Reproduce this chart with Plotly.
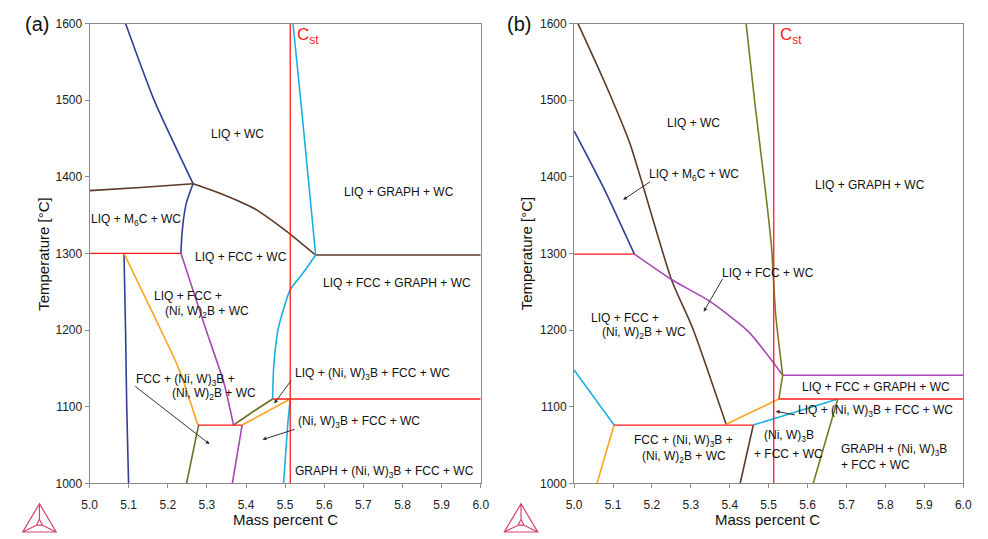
import plotly.graph_objects as go

W, H = 988, 539

# ---------------- Panel (a) curves (mass % C, temperature °C) ----------------
a_navy_up_x = [5.092, 5.165, 5.2646]
a_navy_up_t = [1600, 1500, 1391]
a_navy_m6c_x = [5.2646, 5.248, 5.2395, 5.2337, 5.2337]
a_navy_m6c_t = [1391, 1367, 1342, 1304, 1300]
a_navy_left_x = [5.088, 5.092, 5.095, 5.0997]
a_navy_left_t = [1300, 1200, 1100, 1000]
a_brown_left_x = [5.0, 5.13, 5.2646]
a_brown_left_t = [1382, 1386, 1391]
a_brown_right_x = [5.2646, 5.336, 5.4196, 5.503, 5.577]
a_brown_right_t = [1391, 1378, 1359, 1329, 1298]
a_brown_h_x = [5.577, 6.0]
a_brown_h_t = [1298, 1298]
a_cyan_up_x = [5.520, 5.541, 5.557, 5.578]
a_cyan_up_t = [1600, 1494, 1409, 1298]
a_cyan_mid_x = [5.578, 5.5452, 5.5134, 5.4824, 5.4705, 5.468]
a_cyan_mid_t = [1298, 1274, 1253, 1202, 1150, 1110]
a_cyan_low_x = [5.513, 5.507, 5.496]
a_cyan_low_t = [1110, 1079, 1000]
a_red_1300_x = [5.0, 5.2337]
a_red_1300_t = [1300, 1300]
a_red_1110_x = [5.468, 6.0]
a_red_1110_t = [1110, 1110]
a_red_1076_x = [5.277, 5.39]
a_red_1076_t = [1076, 1076]
a_orange_up_x = [5.088, 5.1767, 5.227, 5.277]
a_orange_up_t = [1300, 1206, 1151, 1076]
a_orange_low_x = [5.39, 5.513]
a_orange_low_t = [1076, 1110]
a_purple_up_x = [5.2337, 5.294, 5.344, 5.368]
a_purple_up_t = [1300, 1206, 1130, 1076]
a_purple_low_x = [5.39, 5.365]
a_purple_low_t = [1076, 1000]
a_olive_up_x = [5.368, 5.4196, 5.468]
a_olive_up_t = [1076, 1094, 1110]
a_olive_low_x = [5.279, 5.273, 5.248]
a_olive_low_t = [1076, 1062, 1000]

# ---------------- Panel (b) curves ----------------
b_brown_x = [5.010, 5.078, 5.143, 5.25, 5.305, 5.3906]
b_brown_t = [1600, 1524, 1444, 1266, 1202, 1077]
b_brown_low_x = [5.4604, 5.4268]
b_brown_low_t = [1076, 1000]
b_navy_x = [5.0, 5.0775, 5.155]
b_navy_t = [1460, 1384, 1299]
b_red_1300_x = [5.0, 5.155]
b_red_1300_t = [1299, 1299]
b_purple_x = [5.155, 5.25, 5.347, 5.448, 5.536]
b_purple_t = [1299, 1266, 1238, 1198, 1141]
b_purple_h_x = [5.536, 6.0]
b_purple_h_t = [1141, 1141]
b_olive_x = [5.442, 5.465, 5.49, 5.507, 5.518, 5.536]
b_olive_t = [1600, 1494, 1389, 1310, 1220, 1141]
b_olive_mid_x = [5.536, 5.526]
b_olive_mid_t = [1141, 1110]
b_olive_low_x = [5.6776, 5.6145]
b_olive_low_t = [1110, 1000]
b_red_1110_x = [5.526, 6.0]
b_red_1110_t = [1110, 1110]
b_red_1076_x = [5.1027, 5.4604]
b_red_1076_t = [1076, 1076]
b_cyan_left_x = [5.0, 5.1027]
b_cyan_left_t = [1148, 1076]
b_cyan_right_x = [5.4604, 5.6776]
b_cyan_right_t = [1076, 1110]
b_orange_up_x = [5.3906, 5.526]
b_orange_up_t = [1077, 1110]
b_orange_low_x = [5.1027, 5.059]
b_orange_low_t = [1076, 1000]

c_st = 5.513
red_vert_t = [1000, 1600]

x_ticks = [5.0, 5.1, 5.2, 5.3, 5.4, 5.5, 5.6, 5.7, 5.8, 5.9, 6.0]
y_ticks = [1000, 1100, 1200, 1300, 1400, 1500, 1600]

NAVY = "#2f3f95"
BROWN = "#5b3a28"
CYAN = "#1cb0e0"
RED = "#ff1a1a"
ORANGE = "#ffa21f"
PURPLE = "#a548b3"
OLIVE = "#6f6d26"
OLIVE_B = "#7b7a22"

fig = go.Figure()

def line(x, y, color, ax="1", width=1.6):
    fig.add_trace(go.Scatter(
        x=x, y=y, mode="lines", line=dict(color=color, width=width, shape="spline", smoothing=0.6),
        xaxis="x" if ax == "1" else "x2", yaxis="y" if ax == "1" else "y2",
        hoverinfo="skip", showlegend=False))

# panel a
line(a_navy_up_x, a_navy_up_t, NAVY)
line(a_navy_m6c_x, a_navy_m6c_t, NAVY)
line(a_navy_left_x, a_navy_left_t, NAVY)
line(a_brown_left_x, a_brown_left_t, BROWN)
line(a_brown_right_x, a_brown_right_t, BROWN)
line(a_brown_h_x, a_brown_h_t, BROWN)
line(a_cyan_up_x, a_cyan_up_t, CYAN)
line(a_cyan_mid_x, a_cyan_mid_t, CYAN)
line(a_cyan_low_x, a_cyan_low_t, CYAN)
line(a_orange_up_x, a_orange_up_t, ORANGE)
line(a_orange_low_x, a_orange_low_t, ORANGE)
line(a_purple_up_x, a_purple_up_t, PURPLE)
line(a_purple_low_x, a_purple_low_t, PURPLE)
line(a_olive_up_x, a_olive_up_t, OLIVE)
line(a_olive_low_x, a_olive_low_t, OLIVE)
line(a_red_1300_x, a_red_1300_t, RED, width=1.3)
line(a_red_1110_x, a_red_1110_t, RED, width=1.3)
line(a_red_1076_x, a_red_1076_t, RED, width=1.3)
line([c_st, c_st], red_vert_t, RED, width=1.3)

# panel b
line(b_brown_x, b_brown_t, BROWN, "2")
line(b_brown_low_x, b_brown_low_t, BROWN, "2")
line(b_navy_x, b_navy_t, NAVY, "2")
line(b_purple_x, b_purple_t, PURPLE, "2")
line(b_purple_h_x, b_purple_h_t, PURPLE, "2")
line(b_olive_x, b_olive_t, OLIVE_B, "2")
line(b_olive_mid_x, b_olive_mid_t, OLIVE_B, "2")
line(b_olive_low_x, b_olive_low_t, OLIVE_B, "2")
line(b_cyan_left_x, b_cyan_left_t, CYAN, "2")
line(b_cyan_right_x, b_cyan_right_t, CYAN, "2")
line(b_orange_up_x, b_orange_up_t, ORANGE, "2")
line(b_orange_low_x, b_orange_low_t, ORANGE, "2")
line(b_red_1300_x, b_red_1300_t, RED, "2", width=1.3)
line(b_red_1110_x, b_red_1110_t, RED, "2", width=1.3)
line(b_red_1076_x, b_red_1076_t, RED, "2", width=1.3)
line([c_st, c_st], red_vert_t, RED, "2", width=1.3)

FONT = "Liberation Sans, Arial, sans-serif"
ann = []

def label(text, x, y, ax="1", size=12, color="#111", xanchor="center"):
    ann.append(dict(text=text, x=x, y=y, xref="x" if ax == "1" else "x2",
                    yref="y" if ax == "1" else "y2", showarrow=False,
                    font=dict(family=FONT, size=size, color=color), xanchor=xanchor, yanchor="middle"))

def arrow(x, y, tx, ty, ax="1"):
    xr = "x" if ax == "1" else "x2"
    yr = "y" if ax == "1" else "y2"
    ann.append(dict(text="", x=x, y=y, ax=tx, ay=ty, xref=xr, yref=yr, axref=xr, ayref=yr,
                    showarrow=True, arrowhead=2, arrowsize=0.8, arrowwidth=1, arrowcolor="#333"))

# panel a labels
label("LIQ + WC", 5.377, 1456)
label("LIQ + GRAPH + WC", 5.791, 1380)
label("LIQ + M<sub>6</sub>C + WC", 5.118, 1344)
label("LIQ + FCC + WC", 5.387, 1295)
label("LIQ + FCC + GRAPH + WC", 5.786, 1261)
label("LIQ + FCC +", 5.251, 1244)
label("(Ni, W)<sub>2</sub>B + WC", 5.299, 1224)
label("FCC + (Ni, W)<sub>3</sub>B +", 5.244, 1135)
label("(Ni, W)<sub>2</sub>B + WC", 5.319, 1116)
label("LIQ + (Ni, W)<sub>3</sub>B + FCC + WC", 5.724, 1142)
label("(Ni, W)<sub>3</sub>B + FCC + WC", 5.688, 1080)
label("GRAPH + (Ni, W)<sub>3</sub>B + FCC + WC", 5.754, 1015)
label("C<sub>st</sub>", 5.525, 1584, size=17, color=RED, xanchor="left")
arrow(5.307, 1051, 5.113, 1128)
arrow(5.472, 1104, 5.518, 1136)
arrow(5.442, 1057, 5.528, 1071)

# panel b labels
label("LIQ + WC", 5.308, 1470, "2")
label("LIQ + M<sub>6</sub>C + WC", 5.308, 1403, "2")
label("LIQ + GRAPH + WC", 5.760, 1389, "2")
label("C<sub>st</sub>", 5.525, 1584, "2", size=17, color=RED, xanchor="left")
label("LIQ + FCC + WC", 5.497, 1275, "2")
label("LIQ + FCC +", 5.131, 1216, "2")
label("(Ni, W)<sub>2</sub>B + WC", 5.179, 1196, "2")
label("LIQ + FCC + GRAPH + WC", 5.775, 1126, "2")
label("LIQ + (Ni, W)<sub>3</sub>B + FCC + WC", 5.775, 1094, "2")
label("FCC + (Ni, W)<sub>3</sub>B +", 5.280, 1055, "2")
label("(Ni, W)<sub>2</sub>B + WC", 5.283, 1034, "2")
label("(Ni, W)<sub>3</sub>B", 5.551, 1062, "2")
label("+ FCC + WC", 5.551, 1038, "2")
label("GRAPH + (Ni, W)<sub>3</sub>B", 5.823, 1043, "2")
label("+ FCC + WC", 5.775, 1024, "2")
arrow(5.126, 1370, 5.1995, 1395, "2")
arrow(5.333, 1224, 5.384, 1269, "2")
arrow(5.518, 1094, 5.571, 1089, "2")

# axis titles and panel labels (paper coords)
def paper_text(text, px, py, size, angle=0, color="#111"):
    ann.append(dict(text=text, x=px / W, y=1 - py / H, xref="paper", yref="paper",
                    showarrow=False, textangle=angle, xanchor="center", yanchor="middle",
                    font=dict(family=FONT, size=size, color=color)))

paper_text("Temperature [°C]", 36, 253, 15, -90)
paper_text("Temperature [°C]", 527, 253, 15, -90)
paper_text("Mass percent C", 282, 526, 15)
paper_text("Mass percent C", 773, 526, 15)
paper_text("(a)", 29, 17, 20)
paper_text("(b)", 520, 17, 20)

# Thermo-Calc style logo (decorative)
shapes = []
LOGO = "#d4446a"
for dx in (0, 490):
    def P(px, py):
        return f"{(px + dx) / W:.5f},{1 - py / H:.5f}"
    outer = [(15, 539), (49, 539), (32, 510)]
    inner = [(29, 532), (35, 532), (32, 526)]
    path = f"M{P(*outer[0])} L{P(*outer[1])} L{P(*outer[2])} Z "
    path += f"M{P(*inner[0])} L{P(*inner[1])} L{P(*inner[2])} Z "
    for o, i in zip(outer, inner):
        path += f"M{P(*o)} L{P(*i)} "
    shapes.append(dict(type="path", path=path, xref="paper", yref="paper",
                       line=dict(color=LOGO, width=1.2)))

ax_common = dict(range=[5.0, 6.0], tickvals=x_ticks, tickformat=".1f", showgrid=False, zeroline=False,
                 showline=True, linecolor="#8a8a8a", linewidth=1, mirror=True, ticks="outside",
                 ticklen=4, tickcolor="#8a8a8a", ticklabelstandoff=6,
                 tickfont=dict(family=FONT, size=12, color="#222"))
ay_common = dict(range=[1000, 1600], tickvals=y_ticks, showgrid=False, zeroline=False,
                 showline=True, linecolor="#8a8a8a", linewidth=1, mirror=True, ticks="outside",
                 ticklen=4, tickcolor="#8a8a8a", tickfont=dict(family=FONT, size=12, color="#222"))

ydom = [1 - 489 / H, 1 - 17 / H]
fig.update_layout(
    width=W, height=H, margin=dict(l=0, r=0, t=0, b=0),
    paper_bgcolor="white", plot_bgcolor="white", showlegend=False,
    xaxis=dict(domain=[83 / W, 481 / W], anchor="y", **ax_common),
    yaxis=dict(domain=ydom, anchor="x", **ay_common),
    xaxis2=dict(domain=[576 / W, 972 / W], anchor="y2", **ax_common),
    yaxis2=dict(domain=ydom, anchor="x2", **ay_common),
    annotations=ann, shapes=shapes,
)

fig.write_html("out.html")
